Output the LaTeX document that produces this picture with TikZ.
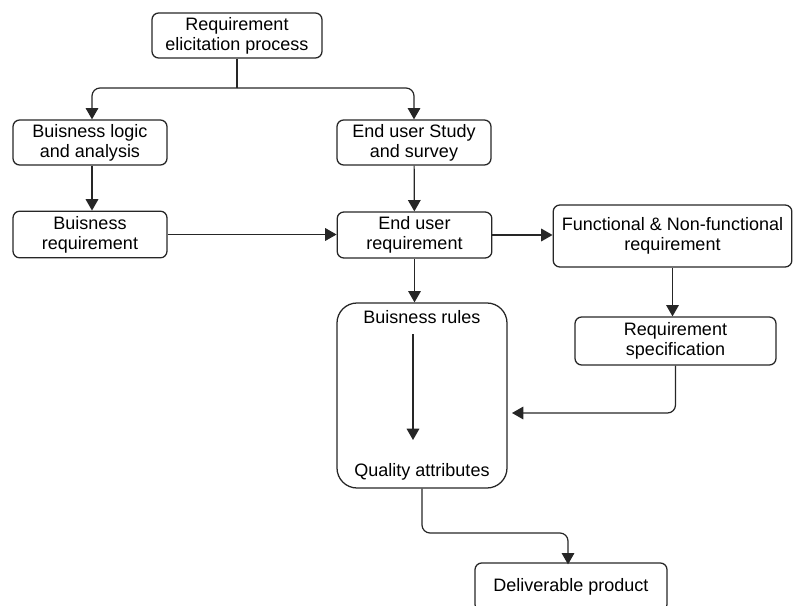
\documentclass[tikz,border=0pt]{standalone}
\usepackage{fontspec}
\setmainfont{Liberation Sans}
\usetikzlibrary{arrows.meta, positioning, calc}

\begin{document}
\begin{tikzpicture}[
    x=0.75pt, y=-0.75pt,
    process/.style = {rectangle, rounded corners=5pt, draw=black!85, line width=0.95pt, text centered, align=center, inner sep=0pt, font=\fontsize{13.5}{15}\selectfont},
    bigbox/.style  = {rectangle, rounded corners=15pt, draw=black!85, line width=0.95pt, minimum width=127.5pt, minimum height=138.75pt},
    lbl/.style     = {inner sep=0pt, font=\fontsize{13.5}{15}\selectfont},
    line/.style    = {line width=0.9pt, draw=black!85},
    arrow/.style   = {line, -{Triangle[length=8.5pt, width=9.5pt]}, rounded corners=6pt}
]
    \useasboundingbox (0,0) rectangle (795,606);

    % --- Kotak Utama ---
    \node (req)   [process, minimum width=127.5pt, minimum height=33.75pt] at (237,35.5) {Requirement\\elicitation process};
    \node (bla)   [process, minimum width=115.5pt, minimum height=33.75pt] at (90,142.5) {Buisness logic\\and analysis};
    \node (eus)   [process, minimum width=115.5pt, minimum height=33.75pt] at (414,142.5) {End user Study\\and survey};
    \node (breq)  [process, minimum width=115.5pt, minimum height=35pt] at (90,234.5) {Buisness\\requirement};
    \node (eureq) [process, minimum width=116pt, minimum height=34.5pt] at (414.5,235) {End user\\requirement};
    \node (func)  [process, minimum width=179pt, minimum height=46.5pt] at (672.5,236) {Functional \& Non-functional\\requirement};
    \node (spec)  [process, minimum width=150.75pt, minimum height=36pt] at (675.5,341) {Requirement\\specification};
    \node (deliv) [process, minimum width=144pt, minimum height=36pt] at (571,587) {Deliverable product};

    % --- Kotak Aturan ---
    \node (rules)  [bigbox] at (422,395.5) {};
    \node (brules) [lbl] at (422,317) {Buisness rules};
    \node (qattr)  [lbl] at (422,472) {Quality attributes};

    % --- Titik Bantu ---
    \coordinate (split)  at (237,88);
    \coordinate (inA)    at (413,334);
    \coordinate (inB)    at (413,440);
    \coordinate (specin) at (512,413);
    \coordinate (drop)   at (422,533);

    % --- Garis Penghubung ---
    \draw [line]  (req.south) -- (split);
    \draw [arrow] (split) -| ([xshift=1.5pt]bla.north);
    \draw [arrow] (split) -| (eus.north);
    \draw [arrow] ([xshift=1.5pt]bla.south) -- ([xshift=1.5pt]breq.north);
    \draw [arrow] (eus) -- (eureq);
    \draw [arrow] (breq.east) -- (breq.east -| eureq.west);
    \draw [arrow] (eureq.east) -- (eureq.east -| func.west);
    \draw [arrow] (eureq.south) -- (eureq.south |- rules.north);
    \draw [arrow] (func) -- (func.south |- spec.north);
    \draw [arrow] (spec.south) |- (specin);
    \draw [arrow] (inA) -- (inB);
    \draw [arrow] (rules.south) -- (drop) -| ([xshift=-2.25pt, yshift=-1.5pt]deliv.north);
\end{tikzpicture}
\end{document}
